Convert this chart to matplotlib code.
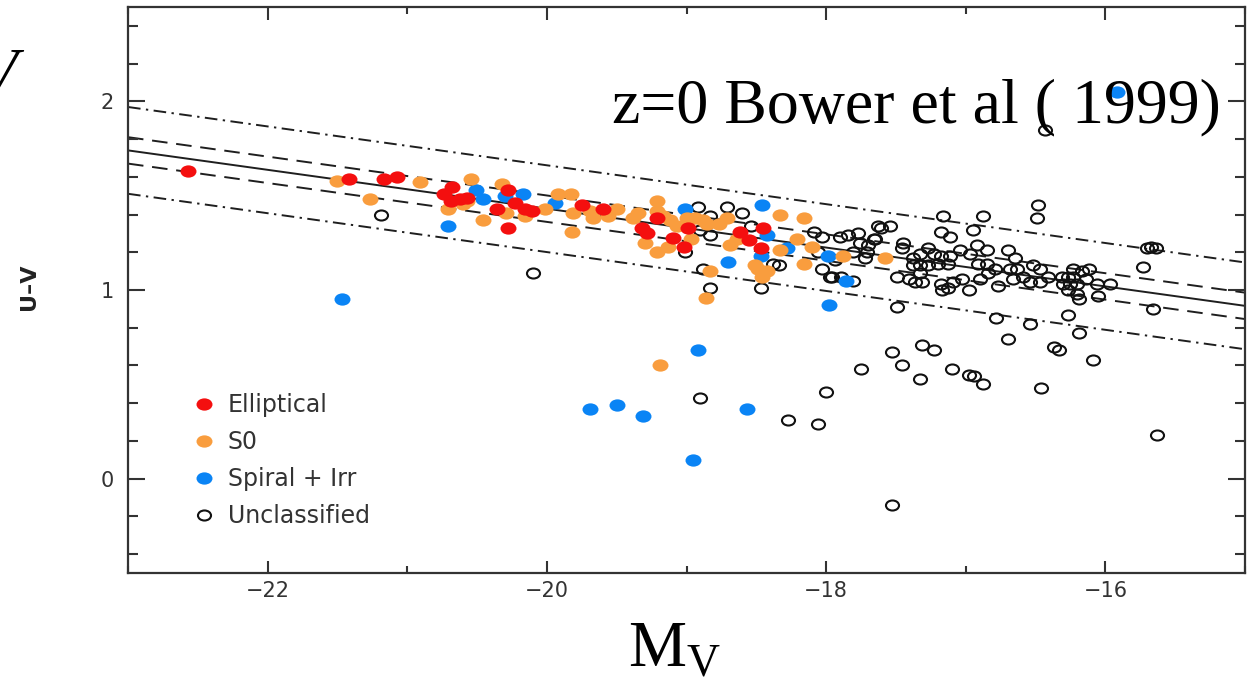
import numpy as np
import matplotlib.pyplot as plt
from matplotlib.path import Path
from matplotlib.transforms import Affine2D

# Colour-magnitude data, M_V against U-V, split by morphology
ell_mv = [-22.57, -21.42, -21.17, -21.07, -20.74, -20.68, -20.69, -20.62, -20.57,
          -20.36, -20.28, -20.23, -20.16, -20.28, -20.11, -19.75, -19.60, -19.32,
          -19.28, -19.21, -19.10, -19.02, -18.99, -18.62, -18.55, -18.45, -18.47]
ell_uv = [1.63, 1.59, 1.59, 1.60, 1.51, 1.545, 1.47, 1.48, 1.49,
          1.43, 1.53, 1.46, 1.43, 1.33, 1.42, 1.45, 1.43, 1.33,
          1.30, 1.38, 1.275, 1.23, 1.33, 1.31, 1.265, 1.33, 1.22]

s0_mv = [-21.50, -21.27, -20.91, -20.54, -20.32, -20.57, -20.60, -20.71, -20.46,
         -20.29, -20.16, -20.01, -19.92, -19.83, -19.81, -19.82, -19.69, -19.67,
         -19.56, -19.50, -19.38, -19.35, -19.21, -19.21, -19.17, -19.12, -19.07,
         -19.00, -18.94, -18.88, -18.85, -18.77, -18.71, -19.30, -19.21, -19.13,
         -18.97, -18.69, -18.64, -18.51, -18.46, -18.42, -18.49, -18.83, -18.86,
         -18.33, -18.16, -18.33, -18.21, -18.16, -18.10, -17.88, -17.58, -19.19]
s0_uv = [1.58, 1.48, 1.57, 1.59, 1.56, 1.47, 1.455, 1.43, 1.37,
         1.41, 1.39, 1.43, 1.51, 1.51, 1.41, 1.31, 1.42, 1.38,
         1.39, 1.43, 1.38, 1.41, 1.47, 1.42, 1.39, 1.37, 1.34,
         1.38, 1.38, 1.37, 1.35, 1.35, 1.38, 1.25, 1.20, 1.23,
         1.27, 1.24, 1.27, 1.13, 1.07, 1.10, 1.11, 1.10, 0.96,
         1.40, 1.38, 1.21, 1.27, 1.14, 1.23, 1.18, 1.17, 0.60]

sp_mv = [-21.47, -20.71, -20.51, -20.46, -20.30, -20.17, -19.94, -19.01, -18.46,
         -18.42, -18.70, -18.47, -18.28, -17.99, -17.86, -17.98, -18.92, -19.69,
         -19.50, -19.31, -18.57, -18.95, -15.92]
sp_uv = [0.95, 1.34, 1.53, 1.48, 1.50, 1.51, 1.46, 1.43, 1.45,
         1.29, 1.15, 1.18, 1.22, 1.18, 1.05, 0.92, 0.68, 0.37,
         0.39, 0.33, 0.37, 0.10, 2.05]

unc_mv = [-21.19, -20.10, -19.01, -18.92, -18.83, -18.71, -18.60, -18.90, -18.83,
          -18.54, -18.88, -18.83, -18.47, -18.38, -18.34, -18.90, -18.27, -18.06,
          -18.00, -17.53,
          -18.09, -18.03, -18.06, -18.03, -17.96, -17.89, -17.81, -17.90, -17.84,
          -17.77, -17.76, -17.70, -17.71, -17.81, -17.63, -17.66, -17.72, -17.94,
          -17.97,
          -17.61, -17.54, -17.65, -17.45, -17.46, -17.27, -17.38, -17.33, -17.23,
          -17.18, -17.11, -17.38, -17.33, -17.27, -17.20, -17.13, -17.33, -17.41,
          -17.49, -17.36, -17.31, -17.18, -17.17, -17.13, -17.09, -17.03, -16.98,
          -17.04, -16.97, -16.92, -16.85, -16.91, -16.85, -16.90, -16.84, -16.79,
          -16.77, -16.70, -16.65, -16.68, -16.63, -16.66, -16.59, -16.54, -16.52,
          -16.47, -16.41, -16.47, -16.31, -16.27, -16.23, -16.30, -16.25, -16.20,
          -16.27, -16.20, -16.19, -16.23, -16.17, -16.12, -16.14, -16.06, -15.97,
          -16.05, -15.73, -15.70, -15.67, -15.64, -15.66,
          -17.16, -16.88, -17.18, -17.11, -16.95, -16.48, -16.49, -16.43,
          -17.49, -16.78, -16.54, -16.27, -16.19, -16.70, -17.53, -17.31, -17.23,
          -17.75, -17.46, -17.33, -17.10, -16.98, -16.94, -16.88, -16.37, -16.33,
          -16.09, -16.46, -15.63]
unc_uv = [1.40, 1.09, 1.20, 1.44, 1.39, 1.44, 1.41, 1.32, 1.29,
          1.34, 1.11, 1.01, 1.01, 1.14, 1.13, 0.43, 0.31, 0.29,
          0.46, -0.14,
          1.31, 1.28, 1.20, 1.11, 1.07, 1.07, 1.05, 1.28, 1.29,
          1.30, 1.25, 1.24, 1.20, 1.20, 1.34, 1.27, 1.17, 1.16,
          1.07,
          1.33, 1.34, 1.27, 1.25, 1.22, 1.22, 1.17, 1.19, 1.19,
          1.18, 1.18, 1.13, 1.13, 1.13, 1.14, 1.14, 1.09, 1.06,
          1.07, 1.04, 1.04, 1.03, 1.00, 1.01, 1.04, 1.06, 1.00,
          1.21, 1.19, 1.24, 1.21, 1.14, 1.14, 1.06, 1.09, 1.11,
          1.02, 1.21, 1.17, 1.11, 1.11, 1.06, 1.07, 1.04, 1.13,
          1.11, 1.07, 1.04, 1.07, 1.07, 1.07, 1.03, 1.03, 1.03,
          1.00, 0.98, 0.95, 1.11, 1.10, 1.11, 1.06, 1.03, 1.03,
          0.97, 1.12, 1.22, 1.23, 1.22, 0.90,
          1.39, 1.39, 1.31, 1.28, 1.32, 1.45, 1.38, 1.85,
          0.91, 0.85, 0.82, 0.87, 0.77, 0.74, 0.67, 0.71, 0.68,
          0.58, 0.60, 0.53, 0.58, 0.55, 0.545, 0.50, 0.70, 0.68,
          0.63, 0.48, 0.23]

# colour-magnitude relation: U-V = cmr_zero + cmr_slope * M_V, with two scatter bands
cmr_slope = -0.103
cmr_zero = -0.629
band_inner = 0.07
band_outer = 0.23

xticks = [-22, -20, -18, -16]
yticks = [0, 1, 2]

plt.rcParams['font.family'] = ['DejaVu Sans']
plt.rcParams['axes.unicode_minus'] = True

fig = plt.figure(figsize=(12.57, 6.81), dpi=100)
ax = fig.add_axes([128 / 1257, 1 - 573 / 681, 1117 / 1257, 566 / 681])

# dots are drawn a bit wider than tall
oval = Path.unit_circle().transformed(Affine2D().scale(1.3, 1.0))

line_col = '#1e1e1e'
mv = np.array([-23.0, -15.0])
fit = cmr_zero + cmr_slope * mv
ax.plot(mv, fit, color=line_col, lw=1.4, zorder=1)
for off in (band_inner, -band_inner):
    ax.plot(mv, fit + off, color=line_col, lw=1.4, ls=(0, (8, 4.5)), zorder=1)
for off in (band_outer, -band_outer):
    ax.plot(mv, fit + off, color=line_col, lw=1.4, ls=(0, (6.5, 2.8, 1.2, 2.8)), zorder=1)

h_unc, = ax.plot(unc_mv, unc_uv, ls='none', marker=oval, ms=9.4, mfc='none',
                 mec='#111111', mew=1.5, zorder=3)
h_sp, = ax.plot(sp_mv, sp_uv, ls='none', marker=oval, ms=11.5, mfc='#0a84f5',
                mec='none', zorder=4)
h_s0, = ax.plot(s0_mv, s0_uv, ls='none', marker=oval, ms=11.5, mfc='#f99d3e',
                mec='none', zorder=5)
h_ell, = ax.plot(ell_mv, ell_uv, ls='none', marker=oval, ms=11.5, mfc='#f40f0f',
                 mec='none', zorder=6)

ax.set_xlim(-23, -15)
ax.set_ylim(-0.5, 2.5)
ax.set_xticks(xticks)
ax.set_xticks(np.arange(-23, -14, 1), minor=True)
ax.set_yticks(yticks)
ax.set_yticks(np.arange(-0.4, 2.5, 0.2), minor=True)

spine_col = '#333333'
for s in ax.spines.values():
    s.set_color(spine_col)
    s.set_linewidth(1.6)
ax.tick_params(which='both', direction='in', top=True, right=True,
               color=spine_col, width=1.5, labelcolor='#333333', labelsize=15)
ax.tick_params(axis='x', which='major', length=9, pad=6)
ax.tick_params(axis='x', which='minor', length=5)
ax.tick_params(axis='y', which='major', length=12, pad=10)
ax.tick_params(axis='y', which='minor', length=7)

ax.set_ylabel('U–V', fontsize=16, fontweight='bold', color='#222222')
ax.yaxis.set_label_coords(-0.08, 0.505)

leg = ax.legend([h_ell, h_s0, h_sp, h_unc],
                ['Elliptical', 'S0', 'Spiral + Irr', 'Unclassified'],
                loc='upper left', bbox_to_anchor=(0.062, 0.318), frameon=False,
                fontsize=17, numpoints=1, handlelength=0.6, handletextpad=0.7,
                labelspacing=0.55, borderpad=0, borderaxespad=0)
for t in leg.get_texts():
    t.set_color('#333333')

serif = 'Liberation Serif'
fig.text(612 / 1257, 1 - 122 / 681, 'z=0 Bower et al ( 1999)', family=serif,
         fontsize=46, ha='left', va='baseline', color='black', zorder=10)
fig.text(628 / 1257, 1 - 667 / 681, r'M$_\mathregular{V}$', family=serif,
         fontsize=47, ha='left', va='baseline', color='black')
fig.text(18 / 1257, 1 - 92 / 681, 'V', family=serif, style='italic',
         fontsize=46, ha='right', va='baseline', color='black')

fig.savefig('out.png', dpi=100)
